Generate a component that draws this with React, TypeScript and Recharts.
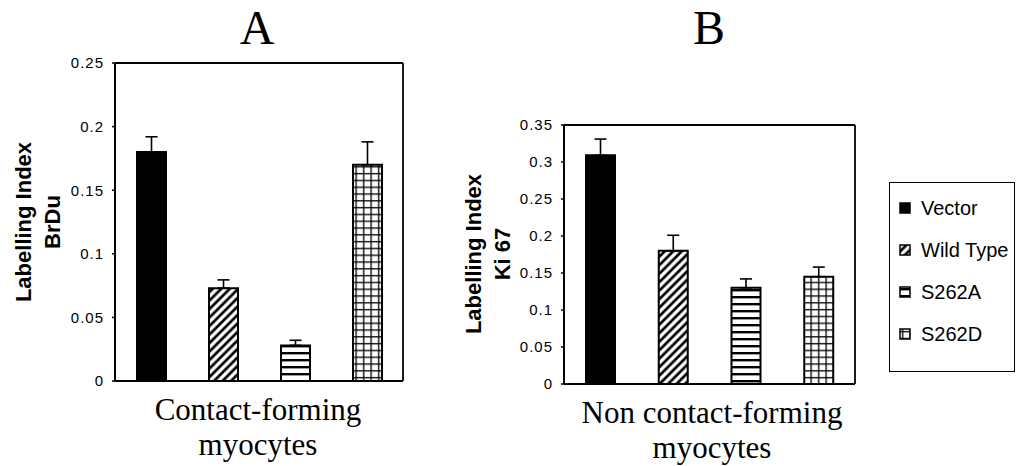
import React from "react";
import { BarChart, Bar, XAxis, YAxis, ErrorBar, Cell, CartesianGrid } from "recharts";

const groups = ["Vector", "Wild Type", "S262A", "S262D"];
const brduValues = [0.18, 0.073, 0.028, 0.17];
const brduErrors = [0.012, 0.0065, 0.004, 0.018];
const ki67Values = [0.309, 0.18, 0.13, 0.145];
const ki67Errors = [0.022, 0.021, 0.012, 0.013];
const brduTicks = [0, 0.05, 0.1, 0.15, 0.2, 0.25];
const ki67Ticks = [0, 0.05, 0.1, 0.15, 0.2, 0.25, 0.3, 0.35];

const fills = ["#000000", "url(#pat-diag)", "url(#pat-horiz)", "url(#pat-grid)"];

const sans = "Arial, 'Liberation Sans', sans-serif";
const serif = "'Times New Roman', 'Liberation Serif', serif";

function buildRows(values: number[], errors: number[]) {
    return groups.map((g, i) => ({ name: g, value: values[i], err: [0, errors[i]] }));
}

function Patterns() {
    return (
        <defs>
            <pattern id="pat-diag" patternUnits="userSpaceOnUse" width="8.5" height="8.5">
                <rect width="8.5" height="8.5" fill="#fff" />
                <path d="M-2,2 L2,-2 M0,8.5 L8.5,0 M6.5,10.5 L10.5,6.5" stroke="#000" strokeWidth="2.7" />
            </pattern>
            <pattern id="pat-horiz" patternUnits="userSpaceOnUse" width="8" height="7">
                <rect width="8" height="7" fill="#fff" />
                <rect y="2" width="8" height="2.4" fill="#000" />
            </pattern>
            <pattern id="pat-grid" patternUnits="userSpaceOnUse" width="7.5" height="6.8">
                <rect width="7.5" height="6.8" fill="#fff" />
                <rect x="3" width="1.3" height="6.8" fill="#000" />
                <rect y="3" width="7.5" height="1.3" fill="#000" />
            </pattern>
        </defs>
    );
}

// frame around the plot area, drawn by the grid at the plot edges
const frameRows = ({ offset }: any) => [offset.top, offset.top + offset.height];
const frameCols = ({ offset }: any) => [offset.left, offset.left + offset.width];

interface PanelProps {
    values: number[];
    errors: number[];
    ticks: number[];
    max: number;
    width: number;
    height: number;
    margin: { top: number; right: number; bottom: number; left: number };
}

function Panel({ values, errors, ticks, max, width, height, margin }: PanelProps) {
    const rows = buildRows(values, errors);
    return (
        <BarChart width={width} height={height} data={rows} margin={margin} barCategoryGap={0}>
            <Patterns />
            <CartesianGrid
                stroke="#000"
                strokeWidth={1.8}
                horizontalCoordinatesGenerator={frameRows}
                verticalCoordinatesGenerator={frameCols}
            />
            <XAxis
                dataKey="name"
                tick={false}
                tickLine={false}
                height={0}
                axisLine={{ stroke: "#000", strokeWidth: 1.8 }}
            />
            <YAxis
                domain={[0, max]}
                ticks={ticks}
                width={60}
                tickSize={3}
                tickMargin={8}
                tickFormatter={(v: number) => String(v)}
                tick={{ fill: "#000", fontSize: 15, fontFamily: sans, letterSpacing: 1 }}
                tickLine={{ stroke: "#000", strokeWidth: 1.5 }}
                axisLine={{ stroke: "#000", strokeWidth: 1.8 }}
            />
            <Bar dataKey="value" barSize={29} stroke="#000" strokeWidth={2} isAnimationActive={false}>
                {rows.map((r, i) => (
                    <Cell key={r.name} fill={fills[i]} />
                ))}
                <ErrorBar dataKey="err" direction="y" width={6} stroke="#000" strokeWidth={1.6} />
            </Bar>
        </BarChart>
    );
}

function YLabel({ lines, cx, cy }: { lines: string[]; cx: number; cy: number }) {
    return (
        <div
            style={{
                position: "absolute",
                left: cx - 150,
                top: cy - 30,
                width: 300,
                height: 60,
                transform: "rotate(-90deg)",
                textAlign: "center",
                fontFamily: sans,
                fontWeight: "bold",
                fontSize: 22,
                lineHeight: "29px",
                color: "#000",
            }}
        >
            {lines.map((l) => (
                <div key={l}>{l}</div>
            ))}
        </div>
    );
}

function TextBlock({ lines, cx, top, size, lh }: { lines: string[]; cx: number; top: number; size: number; lh: number }) {
    return (
        <div
            style={{
                position: "absolute",
                left: cx - 200,
                top,
                width: 400,
                textAlign: "center",
                fontFamily: serif,
                fontSize: size,
                lineHeight: `${lh}px`,
                color: "#000",
            }}
        >
            {lines.map((l) => (
                <div key={l}>{l}</div>
            ))}
        </div>
    );
}

function Swatch({ fill }: { fill: string }) {
    return (
        <svg width={12} height={12} style={{ marginRight: 10, flex: "none" }}>
            <Patterns />
            <rect x={1} y={1} width={10} height={10} fill={fill} stroke="#000" strokeWidth={1.5} />
        </svg>
    );
}

export default function App() {
    return (
        <div style={{ position: "absolute", left: 0, top: 0, width: 1019, height: 466, background: "#fff", overflow: "hidden" }}>
            <TextBlock lines={["A"]} cx={257} top={2} size={48} lh={52} />
            <TextBlock lines={["B"]} cx={709} top={2} size={48} lh={52} />

            <div style={{ position: "absolute", left: 0, top: 0 }}>
                <Panel
                    values={brduValues}
                    errors={brduErrors}
                    ticks={brduTicks}
                    max={0.25}
                    width={420}
                    height={400}
                    margin={{ top: 63, right: 17, bottom: 19, left: 55 }}
                />
            </div>
            <div style={{ position: "absolute", left: 440, top: 0 }}>
                <Panel
                    values={ki67Values}
                    errors={ki67Errors}
                    ticks={ki67Ticks}
                    max={0.35}
                    width={430}
                    height={400}
                    margin={{ top: 125, right: 15, bottom: 16, left: 64 }}
                />
            </div>

            <YLabel lines={["Labelling Index", "BrDu"]} cx={39} cy={222} />
            <YLabel lines={["Labelling Index", "Ki 67"]} cx={489} cy={254} />

            <TextBlock lines={["Contact-forming", "myocytes"]} cx={258} top={392} size={31} lh={35} />
            <TextBlock lines={["Non contact-forming", "myocytes"]} cx={712} top={395} size={31} lh={35} />

            <div
                style={{
                    position: "absolute",
                    left: 889,
                    top: 182,
                    width: 126,
                    height: 190,
                    boxSizing: "border-box",
                    border: "1.5px solid #000",
                    fontFamily: sans,
                    fontSize: 20,
                    color: "#000",
                }}
            >
                {groups.map((g, i) => (
                    <div
                        key={g}
                        style={{
                            position: "absolute",
                            left: 9,
                            top: 13 + i * 42,
                            height: 24,
                            display: "flex",
                            alignItems: "center",
                            whiteSpace: "nowrap",
                        }}
                    >
                        <Swatch fill={fills[i]} />
                        {g}
                    </div>
                ))}
            </div>
        </div>
    );
}
